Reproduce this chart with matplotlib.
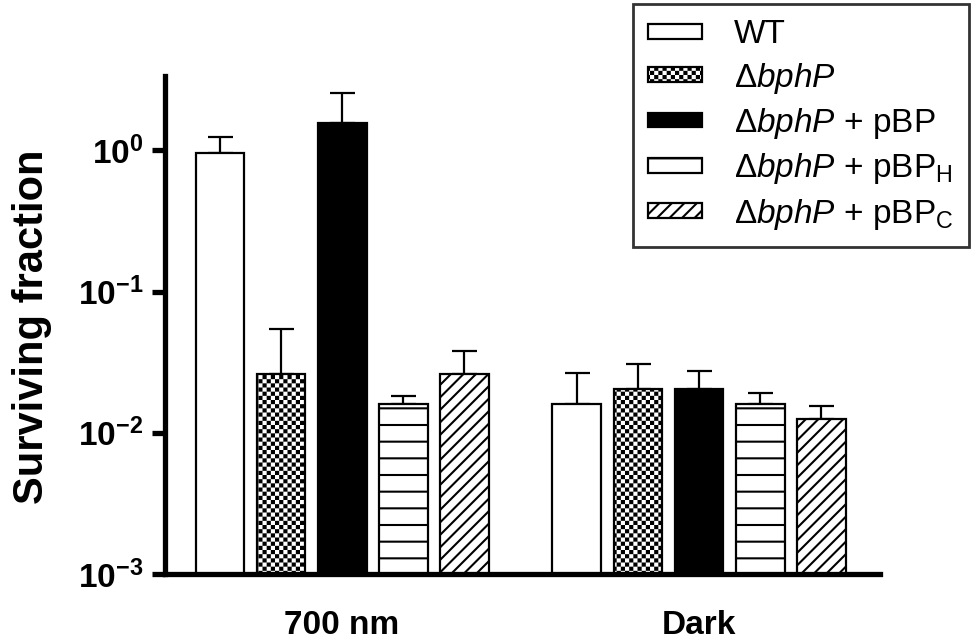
import warnings
warnings.filterwarnings('ignore')
import numpy as np
import matplotlib
matplotlib.use('Agg')
import matplotlib.pyplot as plt
import matplotlib.hatch as mhatch
from matplotlib.path import Path
from matplotlib.ticker import NullLocator

# ---------------- data ----------------
groups = ['700 nm', 'Dark']
series = ['WT', 'ΔbphP', 'ΔbphP + pBP', 'ΔbphP + pBP_H', 'ΔbphP + pBP_C']
legend_labels = ['WT',
                 'Δ$\\mathit{bphP}$',
                 'Δ$\\mathit{bphP}$ + pBP',
                 'Δ$\\mathit{bphP}$ + pBP$_{\\mathregular{H}}$',
                 'Δ$\\mathit{bphP}$ + pBP$_{\\mathregular{C}}$']
means_700 = [0.96, 0.0261, 1.57, 0.0160, 0.0261]
means_dark = [0.0160, 0.0204, 0.0204, 0.0160, 0.0126]
err_700 = [0.29, 0.0283, 0.98, 0.0023, 0.0119]
err_dark = [0.0105, 0.0102, 0.0072, 0.0033, 0.0029]
ytick_vals = [1e-3, 1e-2, 1e-1, 1e0]
ytick_labels = [r'$\mathbf{10^{-3}}$', r'$\mathbf{10^{-2}}$',
                r'$\mathbf{10^{-1}}$', r'$\mathbf{10^{0}}$']
ymin, ymax = 1e-3, 3.37

# ---------------- custom hatches ----------------
HATCH_LW = 1.5  # points
_hw = HATCH_LW / 72.0 / 2.0  # half stroke width in hatch-unit (unit = 72 pt)


class CheckerHatch(mhatch.HatchPatternBase):
    def __init__(self, hatch, density):
        self.n = 12 * hatch.count('k')
        m = 2 * self.n
        self.num_vertices = (m * m // 2) * 5 if self.n else 0

    def set_vertices_and_codes(self, vertices, codes):
        m = 2 * self.n
        s = 1.0 / m
        k = 0
        for i in range(m):
            for j in range(m):
                if (i + j) % 2 == 0:
                    x0, y0 = i * s + _hw, j * s + _hw
                    x1, y1 = (i + 1) * s - _hw, (j + 1) * s - _hw
                    vertices[k:k + 5] = [[x0, y0], [x1, y0], [x1, y1], [x0, y1], [x0, y0]]
                    codes[k:k + 5] = [Path.MOVETO, Path.LINETO, Path.LINETO,
                                      Path.LINETO, Path.CLOSEPOLY]
                    k += 5


class DiagHatch(mhatch.HatchPatternBase):
    def __init__(self, hatch, density):
        self.num_lines = 16 * hatch.count('q')
        self.num_vertices = (self.num_lines + 1) * 2 if self.num_lines else 0

    def set_vertices_and_codes(self, vertices, codes):
        steps = np.linspace(-0.5, 0.5, self.num_lines + 1)
        vertices[0::2, 0] = 0.0 + steps
        vertices[0::2, 1] = 0.0 - steps
        vertices[1::2, 0] = 1.0 + steps
        vertices[1::2, 1] = 1.0 - steps
        codes[0::2] = Path.MOVETO
        codes[1::2] = Path.LINETO


mhatch._hatch_types.append(CheckerHatch)
mhatch._hatch_types.append(DiagHatch)

# ---------------- style ----------------
plt.rcParams['font.family'] = ['Liberation Sans', 'DejaVu Sans']
plt.rcParams['mathtext.fontset'] = 'custom'
plt.rcParams['mathtext.rm'] = 'Liberation Sans'
plt.rcParams['mathtext.it'] = 'Liberation Sans:italic'
plt.rcParams['mathtext.bf'] = 'Liberation Sans:bold'
plt.rcParams['hatch.linewidth'] = HATCH_LW
plt.rcParams['hatch.color'] = 'black'

faces = ['white', 'white', 'black', 'white', 'white']
hatches = [None, 'k', None, '-', 'q']

fig = plt.figure(figsize=(9.75, 6.43), dpi=100)
ax = fig.add_axes([0.16923, 0.10731, 0.73333, 0.77449])
ax.set_yscale('log')

gpos = np.arange(len(groups))
offset = 0.171
bw = 0.137
handles = []
for i in range(len(series)):
    vals = np.array([means_700[i], means_dark[i]])
    errs = np.array([err_700[i], err_dark[i]])
    x = gpos + (i - 2) * offset
    b = ax.bar(x, vals - ymin, bottom=ymin, width=bw, color=faces[i],
               edgecolor='black', linewidth=1.6, hatch=hatches[i],
               label=legend_labels[i], zorder=2)
    handles.append(b)
    ax.errorbar(x, vals, yerr=[np.zeros_like(errs), errs], fmt='none',
                ecolor='black', elinewidth=1.6, capsize=9, capthick=1.6,
                zorder=1)

ax.set_xlim(-0.496, 1.507)
ax.set_ylim(ymin, ymax)
ax.yaxis.set_minor_locator(NullLocator())
ax.set_yticks(ytick_vals)
ax.set_yticklabels(ytick_labels)
ax.set_xticks(gpos)
ax.set_xticklabels(groups, fontsize=24, fontweight='bold')
ax.tick_params(axis='x', length=0, pad=26)
ax.tick_params(axis='y', length=9.5, width=3.8, pad=6, labelsize=24)

for s in ['top', 'right']:
    ax.spines[s].set_visible(False)
for s in ['left', 'bottom']:
    ax.spines[s].set_linewidth(3.8)

ax.set_ylabel('Surviving fraction', fontsize=30, fontweight='bold')
ax.yaxis.set_label_coords(-0.158, 0.497)

leg = fig.legend(handles=handles, loc='upper right',
                 bbox_to_anchor=(969 / 975, 1 - 4 / 643),
                 bbox_transform=fig.transFigure, borderaxespad=0,
                 fontsize=24, frameon=True, fancybox=False, edgecolor='black',
                 handlelength=1.6, handleheight=0.3, handletextpad=0.97,
                 borderpad=0.46, labelspacing=0.31)
leg.get_frame().set_linewidth(2.0)

fig.savefig('out.png', dpi=100)
